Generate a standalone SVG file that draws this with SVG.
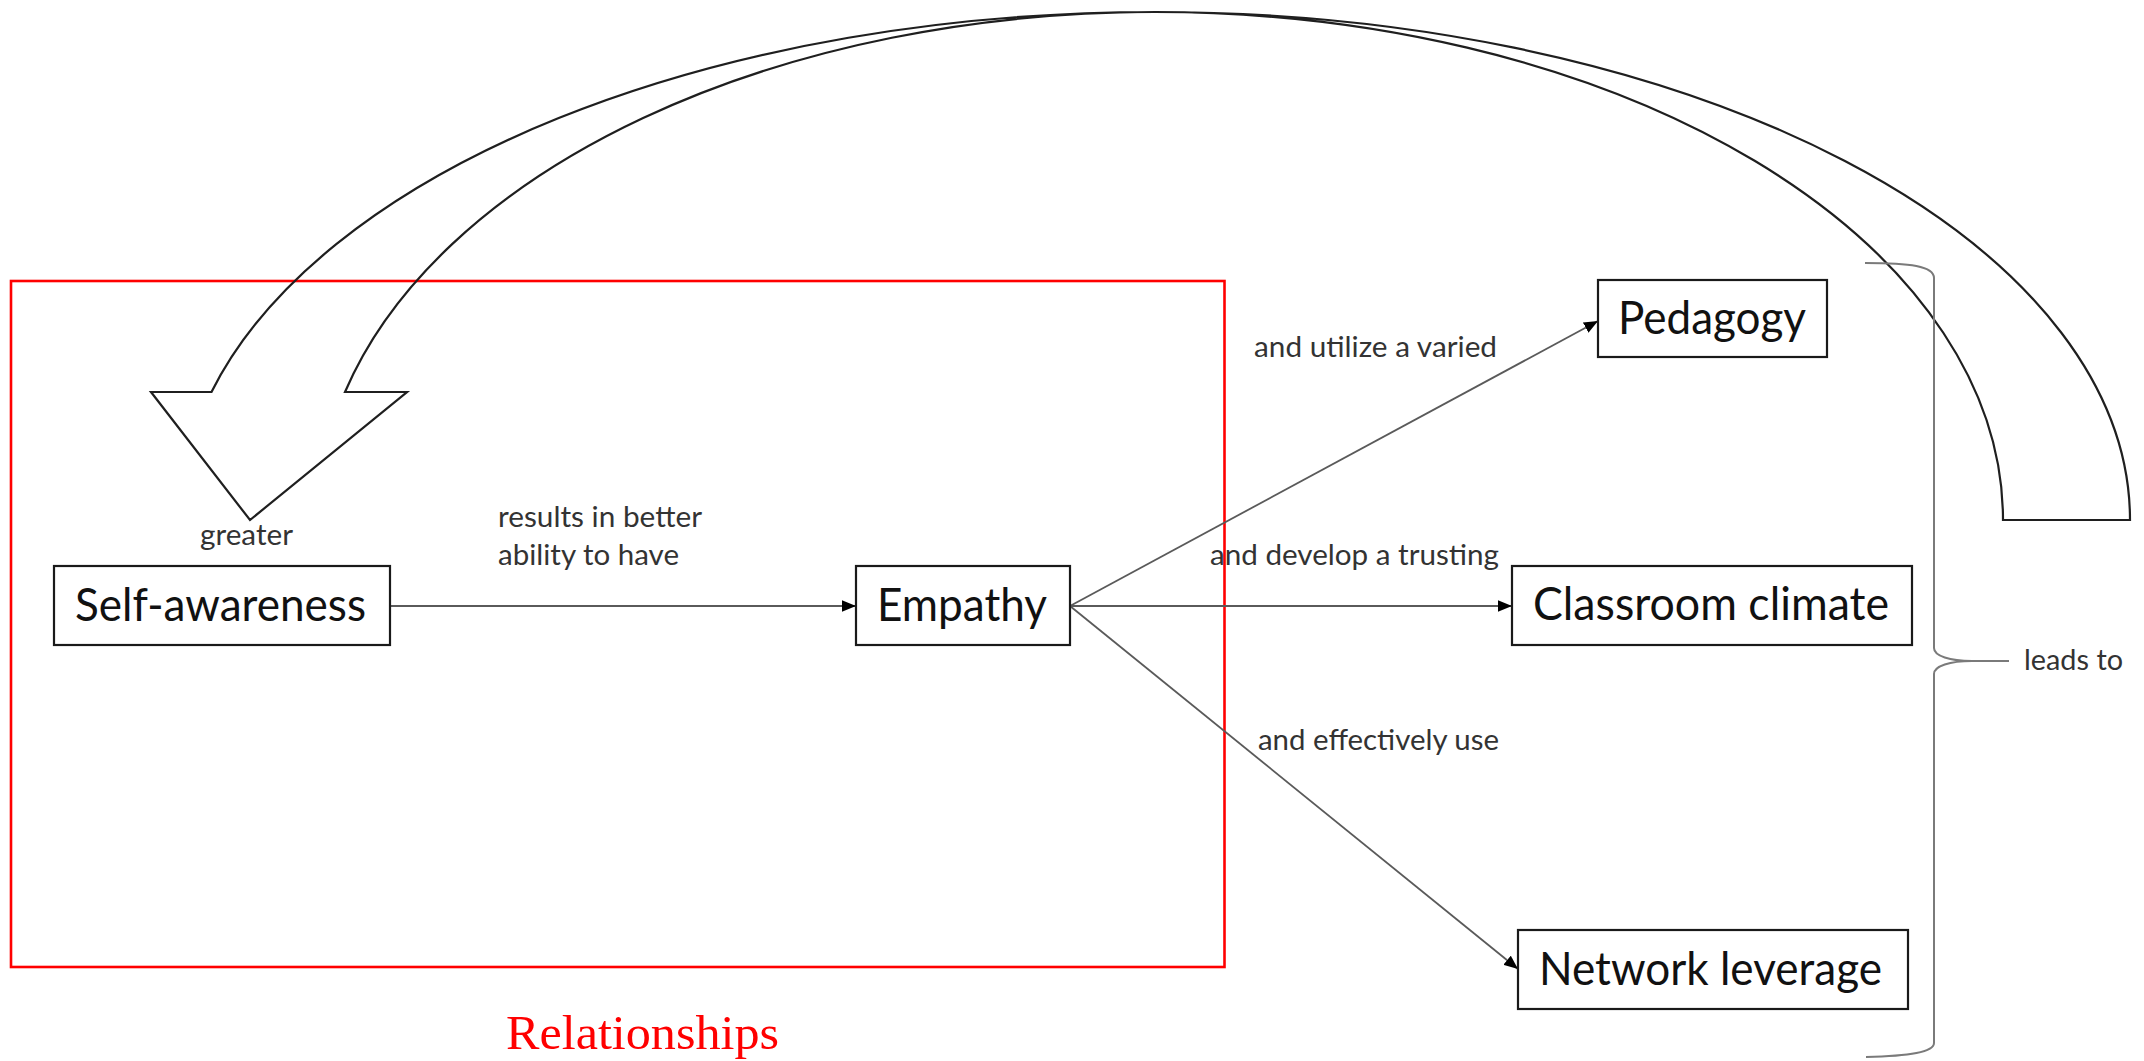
<svg xmlns="http://www.w3.org/2000/svg" width="2144" height="1061" viewBox="0 0 2144 1061">
  <style>
    .box { fill: #ffffff; stroke: #1a1a1a; stroke-width: 2.2; }
    .node { font-family: Lato, "Open Sans", "Liberation Sans", sans-serif; font-size: 46px; fill: #111111; }
    .lbl { font-family: Lato, "Open Sans", "Liberation Sans", sans-serif; font-size: 29px; fill: #333333; }
    .conn { fill: none; stroke: #5a5a5a; stroke-width: 1.8; }
    .big { fill: none; stroke: #1f1f1f; stroke-width: 2.2; stroke-linejoin: miter; }
    .brace { fill: none; stroke: #7a7a7a; stroke-width: 2; }
  </style>
  <defs>
    <marker id="ah" viewBox="0 0 10 10" refX="10" refY="5" markerWidth="7" markerHeight="7" markerUnits="userSpaceOnUse" orient="auto">
      <path d="M0,0 L10,5 L0,10 Z" fill="#000000"/>
    </marker>
    <marker id="ahb" viewBox="0 0 12 10" refX="12" refY="5" markerWidth="14" markerHeight="12" markerUnits="userSpaceOnUse" orient="auto">
      <path d="M0,0 L12,5 L0,10 Z" fill="#000000"/>
    </marker>
  </defs>

  <!-- Relationships frame -->
  <g id="relationships-frame">
    <rect x="11" y="281" width="1213.5" height="686" fill="none" stroke="#ff0000" stroke-width="2.6"/>
    <text x="506" y="1049" textLength="273" lengthAdjust="spacingAndGlyphs" font-family="'Liberation Serif', 'Times New Roman', serif" font-size="49" fill="#ff0000">Relationships</text>
  </g>

  <!-- Curved feedback arrow -->
  <g id="feedback-arrow">
    <path class="big" d="M151,392 L211.5,392 A975,508 0 0 1 1155,12 A975,508 0 0 1 2130,520 L2003,520 A848,508 0 0 0 1155,12 A837,508 0 0 0 345,392 L407,392 L250,520 Z"/>
    <text class="lbl" x="200" y="545" textLength="93" lengthAdjust="spacingAndGlyphs">greater</text>
  </g>

  <!-- Connectors -->
  <g id="connectors">
    <line class="conn" x1="390" y1="606" x2="856" y2="606" marker-end="url(#ahb)"/>
    <line class="conn" x1="1070" y1="606" x2="1598" y2="321" marker-end="url(#ahb)"/>
    <line class="conn" x1="1070" y1="606" x2="1512" y2="606" marker-end="url(#ahb)"/>
    <line class="conn" x1="1070" y1="606" x2="1518" y2="969" marker-end="url(#ahb)"/>
    <text class="lbl" x="498" y="527" textLength="204" lengthAdjust="spacingAndGlyphs">results in better</text>
    <text class="lbl" x="498" y="565" textLength="181" lengthAdjust="spacingAndGlyphs">ability to have</text>
    <text class="lbl" x="1254" y="357" textLength="243" lengthAdjust="spacingAndGlyphs">and utilize a varied</text>
    <text class="lbl" x="1210" y="565" textLength="289" lengthAdjust="spacingAndGlyphs">and develop a trusting</text>
    <text class="lbl" x="1258" y="750" textLength="241" lengthAdjust="spacingAndGlyphs">and effectively use</text>
  </g>

  <!-- Nodes -->
  <g id="node-self-awareness">
    <rect class="box" x="54" y="566" width="336" height="79"/>
    <text class="node" x="75" y="621" textLength="291" lengthAdjust="spacingAndGlyphs">Self-awareness</text>
  </g>
  <g id="node-empathy">
    <rect class="box" x="856" y="566" width="214" height="79"/>
    <text class="node" x="877" y="621" textLength="170" lengthAdjust="spacingAndGlyphs">Empathy</text>
  </g>
  <g id="node-pedagogy">
    <rect class="box" x="1598" y="280" width="229" height="77"/>
    <text class="node" x="1618" y="334" textLength="188" lengthAdjust="spacingAndGlyphs">Pedagogy</text>
  </g>
  <g id="node-classroom-climate">
    <rect class="box" x="1512" y="566" width="400" height="79"/>
    <text class="node" x="1533" y="620" textLength="356" lengthAdjust="spacingAndGlyphs">Classroom climate</text>
  </g>
  <g id="node-network-leverage">
    <rect class="box" x="1518" y="930" width="390" height="79"/>
    <text class="node" x="1539" y="985" textLength="343" lengthAdjust="spacingAndGlyphs">Network leverage</text>
  </g>

  <!-- Brace -->
  <g id="brace-leads-to">
    <path class="brace" d="M1865,263 C1910,263 1934,266 1934,278 L1934,648 C1934,656 1950,661 1972,661 L2009,661 M1972,661 C1950,661 1934,666 1934,674 L1934,1043 C1934,1052 1910,1056 1866,1057"/>
    <text class="lbl" x="2024" y="670" textLength="99" lengthAdjust="spacingAndGlyphs">leads to</text>
  </g>
</svg>
